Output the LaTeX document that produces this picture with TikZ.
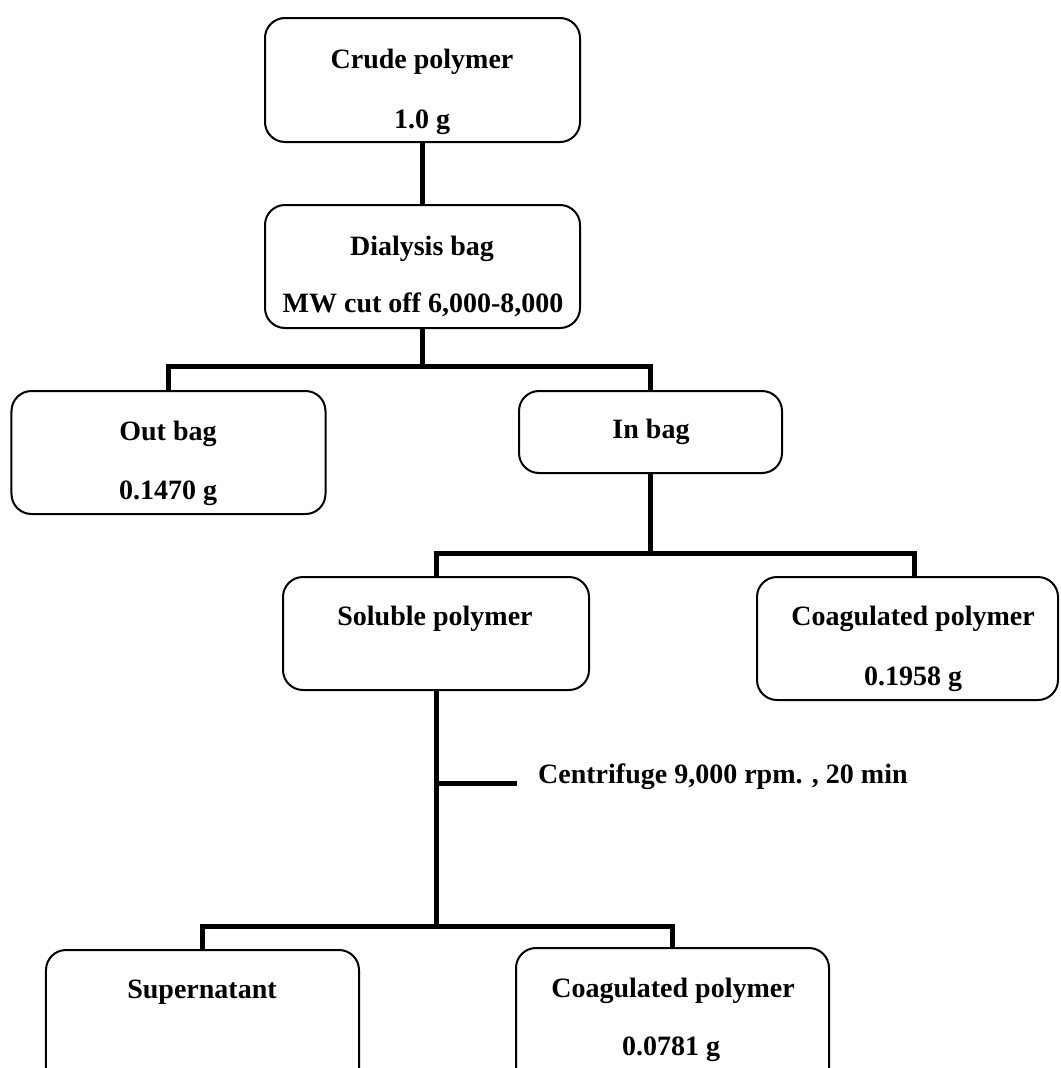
\documentclass[tikz,border=0pt]{standalone}
\usepackage{fontspec}
\setmainfont{Liberation Serif}
\begin{document}
\begin{tikzpicture}[x=1bp,y=-1bp,
  box/.style={draw, line width=2bp, rounded corners=20bp, inner sep=0pt, fill=white},
  conn/.style={line width=5bp, line join=miter},
  txt/.style={font=\fontsize{28bp}{32bp}\selectfont\bfseries, anchor=base, inner sep=0pt}]
\clip (0,0) rectangle (1061,1068);
\fill[white] (0,0) rectangle (1061,1068);
% boxes
\node[box, minimum width=315bp, minimum height=124bp] (crude) at (422.5,80) {};
\node[box, minimum width=315bp, minimum height=123bp] (dial) at (422.5,266.5) {};
\node[box, minimum width=314bp, minimum height=123bp] (out) at (168.5,452.5) {};
\node[box, minimum width=263bp, minimum height=82bp] (inb) at (650.5,432) {};
\node[box, minimum width=306bp, minimum height=113bp] (sol) at (436,633.5) {};
\node[box, minimum width=301bp, minimum height=123bp] (coagA) at (907.5,638.5) {};
\node[box, minimum width=313bp, minimum height=140bp] (super) at (202.5,1020) {};
\node[box, minimum width=313bp, minimum height=142bp] (coagB) at (672.5,1019) {};
% texts
\node[txt] (crudeT) at (422,68) {Crude polymer};
\node[txt] (crudeW) at (422,128) {1.0 g};
\node[txt] (dialT) at (422,255) {Dialysis bag};
\node[txt] (dialW) at (423,312) {MW cut off 6,000-8,000};
\node[txt] (outT) at (168,440) {Out bag};
\node[txt] (outW) at (168,499) {0.1470 g};
\node[txt] (inT) at (651,438) {In bag};
\node[txt] (solT) at (435,625) {Soluble polymer};
\node[txt] (coagAT) at (913,625) {Coagulated polymer};
\node[txt] (coagAW) at (913,685) {0.1958 g};
\node[txt, anchor=base west] (cent) at (538,783) {Centrifuge 9,000 rpm. , 20 min};
\node[txt] (superT) at (202,998) {Supernatant};
\node[txt] (coagBT) at (673,997) {Coagulated polymer};
\node[txt] (coagBW) at (671,1055) {0.0781 g};
% connectors
\coordinate (j1) at (422.5,366);
\coordinate (j2) at (650.5,553);
\coordinate (j3) at (436,926);
\coordinate (cfend) at (517,783);
\draw[conn] (crude.south) -- (dial.north);
\draw[conn] (dial.south) -- (j1) -| (out.north);
\draw[conn] (j1) -| (inb.north);
\draw[conn] (inb.south) -- (j2) -| (sol.north);
\draw[conn] (j2) -| ([xshift=7bp]coagA.north);
\draw[conn] (sol.south) -- (j3) -| (super.north);
\draw[conn] (j3) -| (coagB.north);
\draw[conn] (sol.south |- cfend) -- (cfend);
\end{tikzpicture}
\end{document}
